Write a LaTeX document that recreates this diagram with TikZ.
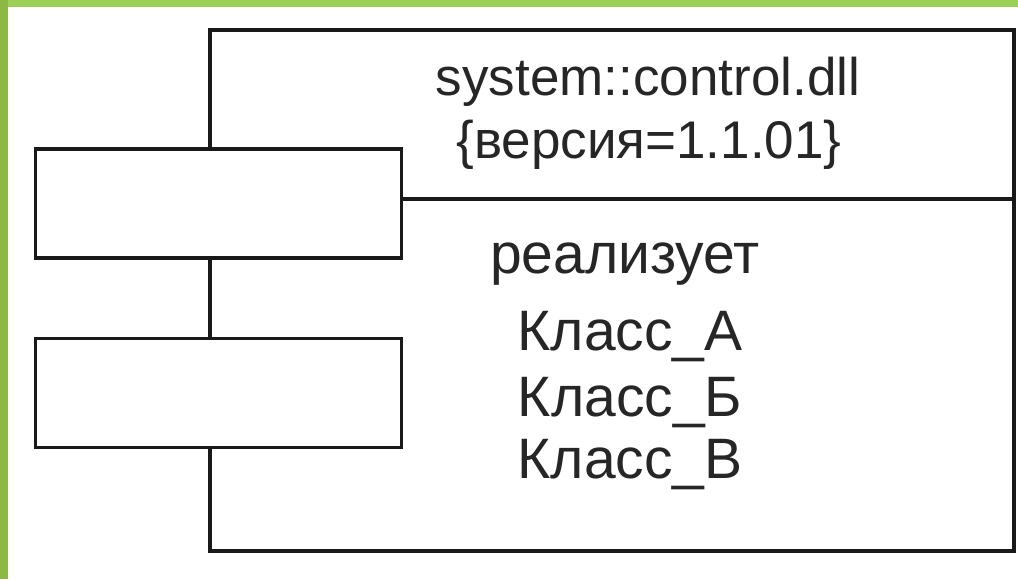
\documentclass[tikz,border=0pt]{standalone}
\usepackage{fontspec}
\setmainfont{Liberation Sans}
\begin{document}
\begin{tikzpicture}[x=1pt,y=-1pt,
  line/.style={line width=3.2pt, draw=black!90},
  compbox/.style={line, fill=white, inner sep=0pt, minimum width=804pt, minimum height=521pt},
  portbox/.style={line, fill=white, inner sep=0pt, minimum width=366pt, minimum height=109pt},
  lbl/.style={inner sep=0pt, anchor=base, font=\fontsize{53}{60}\selectfont, text=black!85},
  lbltwo/.style={lbl, font=\fontsize{57}{64}\selectfont}]
\useasboundingbox (0,0) rectangle (1018,579);
\fill[white] (0,0) rectangle (1018,579);
\fill[fill={rgb,255:red,156;green,207;blue,86}] (0,0) rectangle (1018,7);
\fill[fill={rgb,255:red,141;green,184;blue,68}] (0,0) rectangle (8,579);
\node[compbox] (comp) at (612,290.5) {};
\coordinate (sepL) at (210,199);
\coordinate (sepR) at (1014,199);
\draw[line] (sepL) -- (sepR);
\node[portbox] (port1) at (218.5,203.5) {};
\node[portbox] (port2) at (218.5,393) {};
\node[lbl] (name) at (648,95) {system::control.dll};
\node[lbl] (ver) at (649,158) {\{версия=1.1.01\}};
\node[lbltwo] (real) at (625,273) {реализует};
\node[lbltwo] (ka) at (630,350) {Класс\_А};
\node[lbltwo] (kb) at (630,416) {Класс\_Б};
\node[lbltwo] (kv) at (630,478) {Класс\_В};
\end{tikzpicture}
\end{document}
